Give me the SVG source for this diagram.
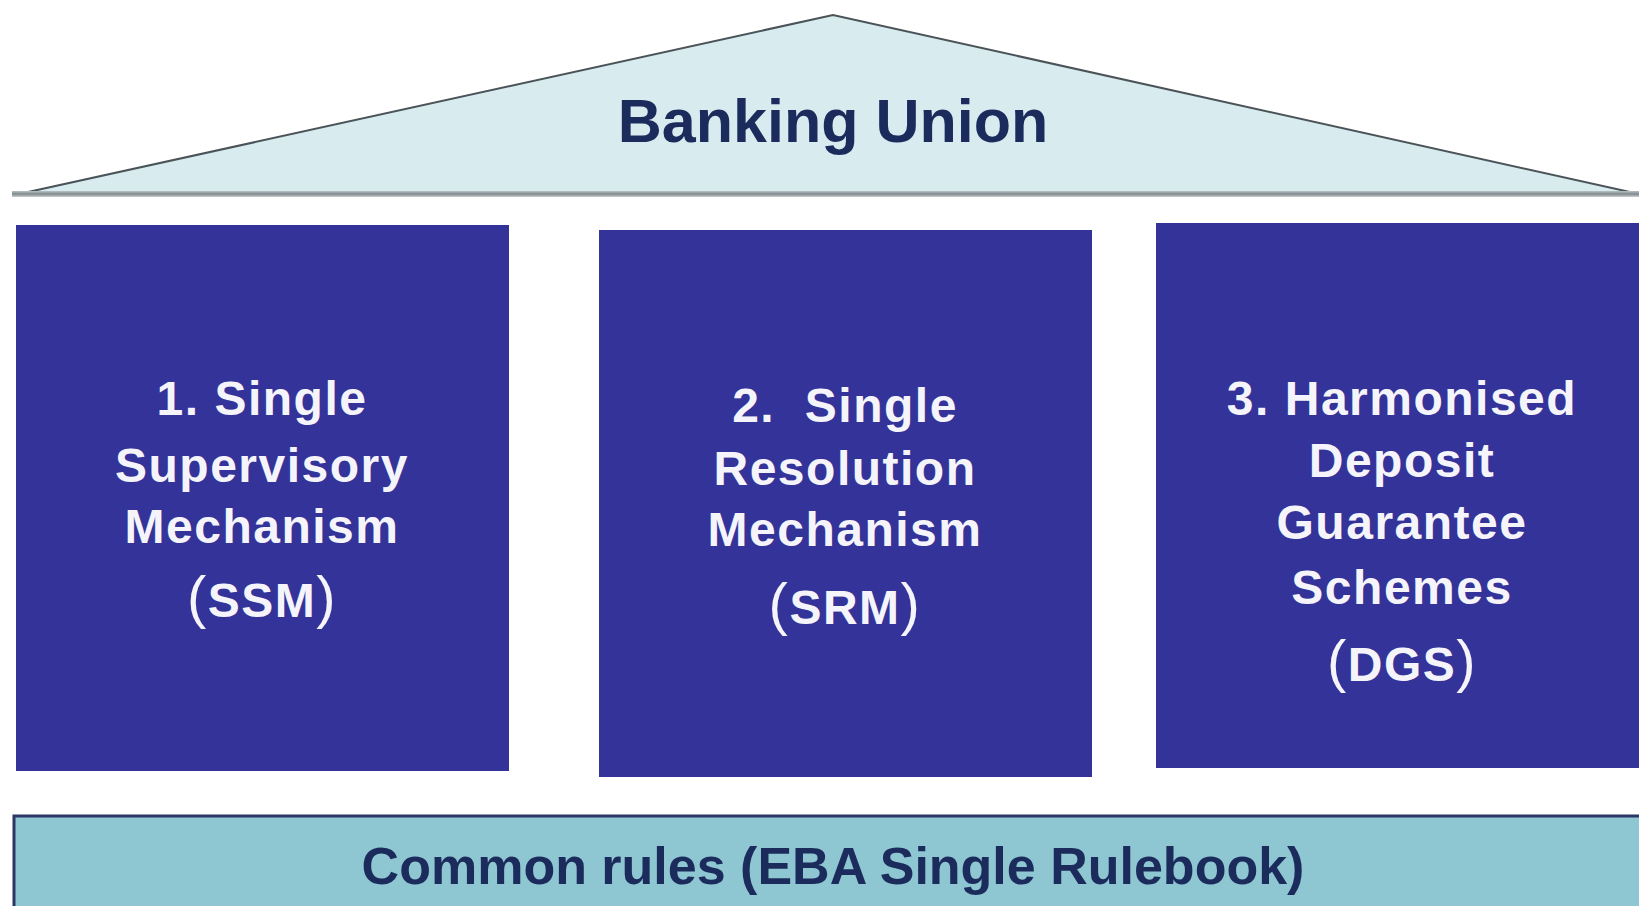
<svg xmlns="http://www.w3.org/2000/svg" width="1639" height="906" viewBox="0 0 1639 906">
<defs>
<style>
.pillar{fill:#333399;}
.ptext{font-family:"Liberation Sans",Arial,sans-serif;font-weight:bold;font-size:48px;fill:#f4f4fa;text-anchor:middle;letter-spacing:1.5px;}
.paren{font-size:58px;font-weight:normal;}
.dark{font-family:"Liberation Sans",Arial,sans-serif;font-weight:bold;fill:#1b2b5c;text-anchor:middle;}
</style>
<linearGradient id="baseShade" x1="0" y1="0" x2="0" y2="1">
<stop offset="0" stop-color="#b9c3c6"/>
<stop offset="0.5" stop-color="#7f888c"/>
<stop offset="1" stop-color="#c9d0d2"/>
</linearGradient>
</defs>
<rect width="1639" height="906" fill="#ffffff"/>
<g id="roof">
<polygon points="19,194 833,15 1639,194" fill="#d8ebef" stroke="#4a5358" stroke-width="2"/>
<rect x="12" y="191" width="1627" height="6" fill="url(#baseShade)"/>
<text class="dark" x="833" y="142" font-size="61">Banking Union</text>
</g>
<g id="ssm">
<rect class="pillar" x="16" y="225" width="493" height="546"/>
<text class="ptext" x="262" y="415">1. Single</text>
<text class="ptext" x="262" y="482">Supervisory</text>
<text class="ptext" x="262" y="543">Mechanism</text>
<text class="ptext" x="262" y="617"><tspan class="paren">(</tspan>SSM<tspan class="paren">)</tspan></text>
</g>
<g id="srm">
<rect class="pillar" x="599" y="230" width="493" height="547"/>
<text class="ptext" x="845" y="422" xml:space="preserve">2.  Single</text>
<text class="ptext" x="845" y="485">Resolution</text>
<text class="ptext" x="845" y="546">Mechanism</text>
<text class="ptext" x="845" y="624"><tspan class="paren">(</tspan>SRM<tspan class="paren">)</tspan></text>
</g>
<g id="dgs">
<rect class="pillar" x="1156" y="223" width="490" height="545"/>
<text class="ptext" x="1402" y="415">3. Harmonised</text>
<text class="ptext" x="1402" y="477">Deposit</text>
<text class="ptext" x="1402" y="539">Guarantee</text>
<text class="ptext" x="1402" y="604">Schemes</text>
<text class="ptext" x="1402" y="681"><tspan class="paren">(</tspan>DGS<tspan class="paren">)</tspan></text>
</g>
<g id="rules">
<rect x="14" y="816" width="1630" height="95" fill="#8ec6d2" stroke="#2b3566" stroke-width="3"/>
<text class="dark" x="833" y="884" font-size="52">Common rules (EBA Single Rulebook)</text>
</g>
<g id="connectors"/>
</svg>
